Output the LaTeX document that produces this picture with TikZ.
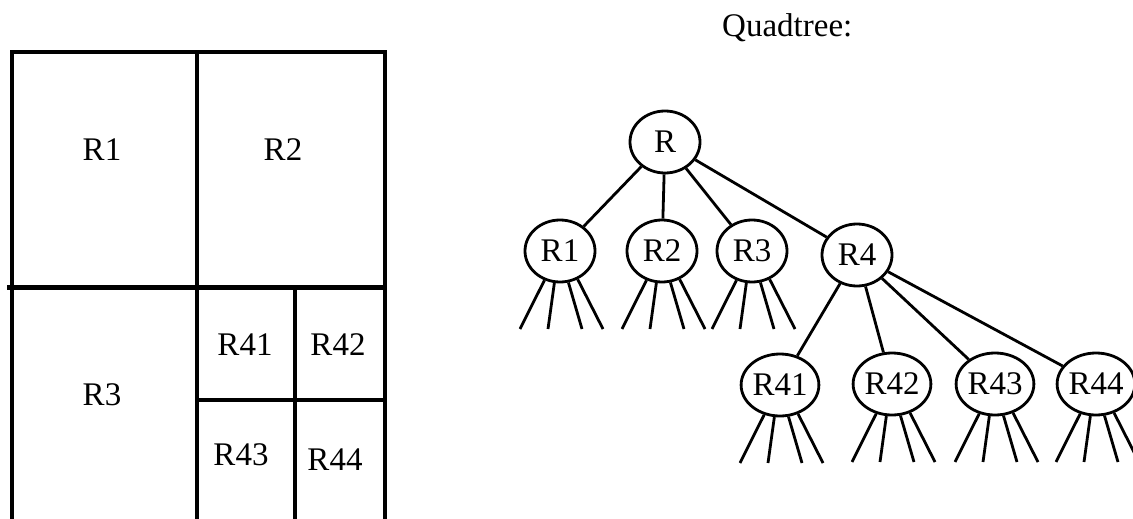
\documentclass[tikz,border=0pt]{standalone}
\usepackage{fontspec}
\setmainfont{Liberation Serif}
\usetikzlibrary{shapes.geometric,calc}

\begin{document}
\begin{tikzpicture}[x=1pt,y=-1pt,
  region/.style={line width=3.5pt},
  rlabel/.style={font=\fontsize{33}{38}\selectfont,inner sep=0pt},
  tnode/.style={draw,ellipse,line width=2.8pt,minimum width=70pt,minimum height=62pt,
    inner sep=0pt,font=\fontsize{33}{38}\selectfont},
  tedge/.style={line width=2.8pt}]
  \useasboundingbox (0,0) rectangle (1133,519);
  % the plane cut into regions
  \coordinate (NW) at (12,52);
  \coordinate (NE) at (385,52);
  \coordinate (SW) at (12,519);
  \coordinate (SE) at (385,519);
  \draw[region] (SW)--(NW)--(NE)--(SE);
  \draw[region] (197,52)--(197,519);
  \draw[line width=5pt] (7,287)--(NE|-0,287);
  \draw[region] (295,287)--(295,519);
  \draw[line width=4.5pt] (197,400)--(NE|-0,400);
  \node[rlabel] (g1) at (102,150) {R1};
  \node[rlabel] (g2) at (283,150) {R2};
  \node[rlabel] (g3) at (102,395) {R3};
  \node[rlabel] (g41) at (245,345) {R41};
  \node[rlabel] (g42) at (338,345) {R42};
  \node[rlabel] (g43) at (241,455) {R43};
  \node[rlabel] (g44) at (335,460) {R44};
  % the tree
  \node[rlabel,anchor=base west] (title) at (722,37) {Quadtree:};
  \node[tnode] (r) at (665,142) {R};
  \node[tnode] (r1) at (560,251) {R1};
  \node[tnode] (r2) at (662,251) {R2};
  \node[tnode] (r3) at (752,251) {R3};
  \node[tnode] (r4) at (857,255) {R4};
  \node[tnode] (r41) at (780,385) {R41};
  \node[tnode] (r42) at (892,384) {R42};
  \node[tnode] (r43) at (995,384) {R43};
  \node[tnode] (r44) at (1096,384) {R44};
  \foreach \c in {r1,r2,r3,r4}
    \draw[tedge] (r)--(\c);
  \foreach \c in {r41,r42,r43,r44}
    \draw[tedge] (r4)--(\c);
  % four open branches under every leaf
  \foreach \n in {r1,r2,r3,r41,r42,r43,r44}
    \foreach \a/\dx in {-118/-40,-100/-12,-75/22,-58/43}
      \draw[tedge] (\n.\a)--($(\n)+(\dx,78)$);
\end{tikzpicture}
\end{document}
